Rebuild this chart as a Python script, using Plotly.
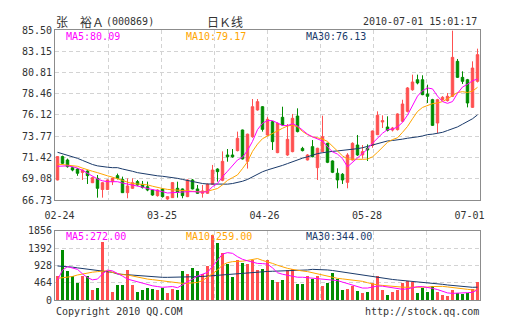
import plotly.graph_objects as go

# ---------------- data ----------------
opens = [68.94, 71.52, 71.15, 70.30, 70.15, 69.78, 69.93, 68.64, 69.12, 67.89,
         67.89, 68.75, 69.42, 69.01, 67.54, 68.02, 68.76, 68.46, 68.20, 67.83,
         67.21, 67.95, 66.84, 66.99, 68.02, 67.95, 67.10, 68.94, 67.95, 67.47,
         67.47, 68.46, 70.15, 68.90, 71.70, 71.70, 72.18, 74.46, 71.00, 73.72,
         76.67, 77.03, 73.90, 75.38, 71.96, 75.86, 71.70, 72.07, 76.00, 72.43,
         71.15, 72.62, 70.30, 72.07, 72.99, 71.04, 69.68, 69.57, 68.68, 71.15,
         72.80, 71.70, 72.44, 72.75, 73.94, 75.34, 74.79, 74.45, 74.50, 75.42,
         76.52, 78.90, 80.01, 80.01, 78.43, 77.81, 75.23, 77.81, 77.70, 78.18,
         82.04, 80.27, 80.01, 76.96, 79.83]
highs = [71.55, 71.63, 71.30, 70.40, 70.25, 70.10, 70.00, 69.25, 69.49, 68.70,
         69.00, 69.20, 69.64, 69.31, 69.12, 69.12, 68.94, 68.83, 68.76, 67.90,
         67.90, 68.00, 67.15, 68.70, 68.75, 68.00, 69.00, 69.05, 68.39, 68.39,
         68.57, 70.60, 70.23, 72.10, 72.36, 72.36, 74.28, 74.50, 74.05, 77.88,
         77.88, 77.10, 75.90, 75.45, 75.30, 77.03, 75.12, 76.23, 76.85, 72.60,
         71.80, 73.35, 72.50, 76.04, 73.05, 71.10, 70.23, 69.70, 71.90, 73.10,
         73.91, 72.80, 72.87, 74.40, 76.52, 76.08, 75.97, 74.80, 76.30, 77.80,
         79.20, 80.57, 80.57, 80.50, 79.46, 77.90, 77.90, 78.20, 78.54, 85.43,
         82.30, 80.94, 80.10, 82.04, 83.44]
lows = [68.90, 70.70, 70.30, 69.90, 69.40, 68.94, 68.50, 68.60, 66.99, 66.99,
        67.85, 68.38, 69.00, 67.50, 66.92, 67.95, 68.30, 68.00, 67.70, 67.20,
        67.10, 67.00, 66.76, 66.95, 66.99, 66.92, 67.05, 67.90, 67.40, 66.99,
        67.40, 68.40, 68.76, 68.80, 70.96, 71.40, 72.10, 71.20, 70.20, 73.60,
        76.60, 74.28, 73.80, 72.25, 71.90, 74.95, 71.60, 72.00, 74.20, 72.10,
        71.10, 71.45, 68.94, 72.00, 70.80, 69.70, 68.02, 68.50, 68.02, 71.10,
        71.60, 71.30, 71.04, 72.50, 73.90, 74.68, 74.30, 74.30, 74.40, 75.30,
        76.40, 78.80, 79.50, 78.30, 77.44, 74.90, 74.13, 77.70, 77.60, 78.10,
        80.20, 79.54, 76.96, 76.90, 79.70]
closes = [71.52, 70.78, 70.41, 70.04, 69.68, 70.04, 69.42, 69.20, 68.02, 68.64,
          68.94, 69.12, 69.12, 67.54, 68.28, 68.64, 68.39, 68.10, 67.83, 67.28,
          67.83, 67.10, 67.10, 68.65, 67.58, 67.21, 68.94, 67.95, 67.47, 67.73,
          68.46, 70.04, 69.86, 71.00, 71.50, 71.50, 73.54, 71.26, 74.00, 77.03,
          77.59, 74.53, 75.64, 73.17, 75.20, 75.01, 73.43, 75.75, 74.28, 72.18,
          71.70, 71.51, 72.44, 73.72, 70.89, 69.79, 68.94, 68.94, 71.70, 72.99,
          71.70, 72.07, 72.25, 74.35, 76.08, 75.49, 74.42, 74.68, 76.23, 77.33,
          79.10, 79.76, 79.65, 78.36, 78.18, 74.97, 77.81, 78.07, 78.18, 82.48,
          80.27, 79.83, 77.44, 81.30, 82.78]

ma5 = [70.45, 70.45, 70.50, 70.40, 70.25, 70.00, 69.70, 69.40, 69.05, 68.85,
       68.75, 68.75, 68.75, 68.60, 68.50, 68.40, 68.30, 68.15, 68.00, 67.90,
       67.80, 67.65, 67.50, 67.55, 67.55, 67.60, 67.65, 67.65, 67.60, 67.60,
       67.65, 68.20, 68.55, 69.30, 69.90, 70.50, 71.15, 71.45, 72.20, 73.20,
       74.50, 75.20, 75.50, 75.50, 75.25, 74.95, 74.95, 75.15, 74.90, 74.40,
       74.00, 73.70, 73.45, 73.25, 72.60, 72.05, 71.80, 71.30, 70.40, 70.90,
       71.40, 71.90, 72.35, 73.00, 73.55, 74.10, 74.50, 74.55, 74.80, 75.30,
       76.10, 77.20, 78.20, 78.80, 79.10, 79.00, 78.20, 77.60, 77.40, 77.60,
       78.50, 79.20, 79.50, 79.90, 80.09]
ma10 = [70.70, 70.65, 70.60, 70.55, 70.45, 70.25, 70.05, 69.90, 69.75, 69.55,
        69.40, 69.25, 69.10, 68.90, 68.70, 68.55, 68.50, 68.45, 68.40, 68.25,
        68.10, 68.00, 67.90, 67.85, 67.80, 67.75, 67.72, 67.70, 67.65, 67.65,
        67.70, 67.85, 68.00, 68.40, 68.90, 69.20, 69.50, 70.20, 70.95, 72.10,
        72.90, 73.50, 73.80, 74.10, 74.40, 74.65, 74.90, 75.00, 74.80, 74.30,
        73.95, 73.70, 73.60, 73.45, 73.20, 72.70, 72.15, 71.60, 71.25, 71.22,
        71.22, 71.22, 71.25, 71.50, 72.00, 72.50, 73.10, 73.40, 73.60, 74.20,
        74.85, 75.70, 76.50, 76.95, 77.20, 77.37, 77.45, 77.60, 77.90, 78.25,
        78.60, 78.69, 78.60, 78.75, 79.17]
ma30 = [72.00, 71.85, 71.70, 71.50, 71.33, 71.10, 70.85, 70.65, 70.50, 70.40,
        70.35, 70.30, 70.30, 70.15, 70.05, 69.90, 69.75, 69.65, 69.60, 69.50,
        69.40, 69.35, 69.30, 69.20, 69.12, 69.00, 68.88, 68.75, 68.65, 68.55,
        68.50, 68.48, 68.48, 68.48, 68.48, 68.55, 68.65, 68.80, 69.00, 69.30,
        69.60, 69.85, 70.05, 70.20, 70.35, 70.55, 70.75, 70.95, 71.20, 71.35,
        71.50, 71.70, 71.85, 71.95, 72.05, 72.10, 72.15, 72.20, 72.25, 72.30,
        72.40, 72.50, 72.65, 72.80, 72.95, 73.10, 73.25, 73.30, 73.35, 73.45,
        73.55, 73.60, 73.70, 73.80, 73.95, 74.00, 74.10, 74.20, 74.40, 74.60,
        74.80, 75.10, 75.40, 75.70, 76.13]

volumes = [643, 1339, 776, 643, 464, 643, 643, 286, 339, 1553,
           776, 232, 411, 411, 803, 411, 232, 286, 339, 312,
           286, 339, 196, 312, 286, 776, 714, 875, 776, 714,
           928, 1741, 1535, 1268, 964, 625, 1089, 1000, 964, 1090,
           803, 848, 1071, 536, 491, 536, 803, 848, 428, 446,
           643, 580, 643, 375, 464, 732, 580, 286, 295, 375,
           250, 196, 223, 464, 643, 286, 134, 223, 286, 464,
           518, 491, 196, 339, 223, 375, 223, 134, 107, 286,
           200, 170, 190, 300, 480]
vma5 = [536, 800, 893, 860, 820, 700, 600, 540, 560, 700,
        800, 780, 720, 640, 560, 520, 480, 440, 420, 380,
        360, 340, 350, 360, 330, 400, 470, 560, 640, 690,
        740, 900, 1060, 1230, 1268, 1250, 1160, 1090, 1050, 1010,
        980, 975, 960, 860, 730, 690, 660, 620, 610, 610,
        600, 580, 575, 554, 545, 536, 520, 480, 440, 390,
        350, 320, 320, 345, 375, 370, 350, 320, 290, 286,
        300, 330, 357, 357, 340, 312, 280, 230, 190, 178,
        190, 196, 196, 205, 272]
vma10 = [580, 590, 600, 630, 670, 700, 732, 745, 759, 775,
         785, 740, 700, 680, 670, 640, 600, 580, 560, 545,
         530, 510, 490, 470, 455, 446, 446, 450, 470, 520,
         607, 700, 800, 937, 1000, 1027, 1030, 1040, 1060, 1090,
         1110, 1060, 1030, 980, 930, 880, 848, 820, 790, 777,
         760, 730, 700, 660, 630, 600, 580, 565, 550, 536,
         520, 500, 464, 430, 402, 390, 375, 365, 355, 345,
         340, 339, 339, 339, 345, 360, 370, 365, 350, 330,
         310, 295, 286, 270, 259]
vma30 = [911, 905, 893, 880, 860, 845, 821, 810, 803, 790,
         759, 740, 696, 685, 675, 660, 643, 635, 625, 615,
         610, 607, 607, 607, 607, 607, 607, 612, 625, 630,
         640, 655, 670, 683, 696, 705, 715, 730, 741, 750,
         755, 759, 765, 770, 775, 777, 777, 777, 777, 790,
         805, 821, 821, 815, 805, 790, 770, 750, 732, 715,
         690, 670, 640, 615, 600, 590, 570, 550, 536, 525,
         515, 505, 491, 480, 470, 455, 440, 420, 402, 390,
         375, 360, 345, 340, 344]

price_ticks = [66.73, 69.08, 71.42, 73.77, 76.12, 78.46, 80.81, 83.15, 85.50]
price_tick_text = ["66.73", "69.08", "71.42", "73.77", "76.12", "78.46", "80.81", "83.15", "85.50"]
vol_ticks = [0, 464, 928, 1392, 1856]
vol_tick_text = ["0", "464", "928", "1392", "1856"]
date_labels = ["02-24", "03-25", "04-26", "05-28", "07-01"]

# ---------------- style ----------------
RED = "#ff5050"
GREEN = "#008c00"
C_MA5 = "#ff00ff"
C_MA10 = "#ffa500"
C_MA30 = "#1a3a6a"
GRID = "#d3d3d3"
FRAME = "#8c8c8c"
TXT = "#333333"
MONO = "DejaVu Sans Mono"
CJK = "Noto Sans CJK SC"

n = len(closes)
idx = list(range(n))
xr = [-0.5, n - 0.5]
# vertical grid: 8 equal divisions of the plot width
grid_x = [xr[0] + (xr[1] - xr[0]) * k / 8 for k in range(1, 8)]
# date labels spread evenly across the axis
date_pos = [0.4 + k * (n - 0.5 - 0.4 - 2.1) / 4 for k in range(5)]

vol_colors = [RED if c >= o else GREEN for o, c in zip(opens, closes)]

fig = go.Figure()
fig.add_trace(go.Candlestick(
    x=idx, open=opens, high=highs, low=lows, close=closes,
    increasing=dict(line=dict(color=RED, width=1), fillcolor=RED),
    decreasing=dict(line=dict(color=GREEN, width=1), fillcolor=GREEN),
    whiskerwidth=0, xaxis="x", yaxis="y", hoverinfo="skip", showlegend=False))
for vals, col in [(ma30, C_MA30), (ma10, C_MA10), (ma5, C_MA5)]:
    fig.add_trace(go.Scatter(x=idx, y=vals, mode="lines", line=dict(color=col, width=1),
                             xaxis="x", yaxis="y", hoverinfo="skip", showlegend=False))

fig.add_trace(go.Bar(x=idx, y=volumes, marker=dict(color=vol_colors, line=dict(width=0)),
                     width=0.74, xaxis="x2", yaxis="y2", hoverinfo="skip", showlegend=False))
for vals, col in [(vma30, C_MA30), (vma10, C_MA10), (vma5, C_MA5)]:
    fig.add_trace(go.Scatter(x=idx, y=vals, mode="lines", line=dict(color=col, width=1),
                             xaxis="x2", yaxis="y2", hoverinfo="skip", showlegend=False))
# invisible trace to carry the date axis
fig.add_trace(go.Scatter(x=[xr[0], xr[1]], y=[price_ticks[0], price_ticks[0]], mode="lines",
                         line=dict(width=0), xaxis="x3", yaxis="y", hoverinfo="skip",
                         showlegend=False))

tickfont = dict(family=MONO, size=10, color=TXT)
common_x = dict(range=xr, showticklabels=False, tickvals=grid_x, showgrid=True,
                gridcolor=GRID, griddash="4px,3px", gridwidth=1, showline=True,
                mirror=True, linecolor=FRAME, linewidth=1, zeroline=False, ticks="",
                fixedrange=True)
common_y = dict(showgrid=True, gridcolor=GRID, griddash="4px,3px", gridwidth=1,
                showline=True, mirror=True, linecolor=FRAME, linewidth=1,
                zeroline=False, ticks="", tickfont=tickfont, fixedrange=True)

MAIN_BOT = (300 - 200) / 270
VOL_TOP = (300 - 230.7) / 270

fig.update_layout(
    width=505, height=330,
    margin=dict(l=55, r=25, t=30, b=30),
    paper_bgcolor="white", plot_bgcolor="white",
    bargap=0,
    xaxis=dict(anchor="y", domain=[0, 1], rangeslider=dict(visible=False), **common_x),
    yaxis=dict(anchor="x", domain=[MAIN_BOT, 1], range=[price_ticks[0], price_ticks[-1]],
               tickvals=price_ticks, ticktext=price_tick_text, **common_y),
    xaxis2=dict(anchor="y2", domain=[0, 1], **common_x),
    yaxis2=dict(anchor="x2", domain=[0, VOL_TOP], range=[0, vol_ticks[-1]],
                tickvals=vol_ticks, ticktext=vol_tick_text, **common_y),
    xaxis3=dict(overlaying="x", anchor="free", position=(300 - 208) / 270, range=xr,
                tickvals=date_pos, ticktext=date_labels, showgrid=False, showline=False,
                zeroline=False, ticks="", tickfont=tickfont, fixedrange=True),
)

def px_x(p):
    return (p - 55) / 425

def px_y(p):
    return (300 - p) / 270

ann = []
def add(text, x, y, xanchor="left", color=TXT, family=MONO, size=10):
    ann.append(dict(text=text, x=px_x(x), y=px_y(y), xref="paper", yref="paper",
                    xanchor=xanchor, yanchor="middle", showarrow=False,
                    font=dict(family=family, size=size, color=color)))

# header
add("张", 54, 21.5, family=CJK, size=12)
add("裕Ａ", 78, 21.5, family=CJK, size=12)
add("(000869)", 104, 21.5)
add("日Ｋ线", 225, 21.5, xanchor="center", family=CJK, size=12)
add("2010-07-01 15:01:17", 479, 21.5, xanchor="right")
# MA legends main
add("MA5:80.09", 64, 36, color=C_MA5)
add("MA10:79.17", 184, 36, color=C_MA10)
add("MA30:76.13", 304, 36, color=C_MA30)
# MA legends volume
add("MA5:272.00", 64, 236.5, color=C_MA5)
add("MA10:259.00", 184, 236.5, color=C_MA10)
add("MA30:344.00", 304, 236.5, color=C_MA30)
# footer
add("Copyright 2010 QQ.COM", 54, 311.5)
add("http://stock.qq.com", 481, 311.5, xanchor="right")

fig.update_layout(annotations=ann)
fig.write_html("out.html")
